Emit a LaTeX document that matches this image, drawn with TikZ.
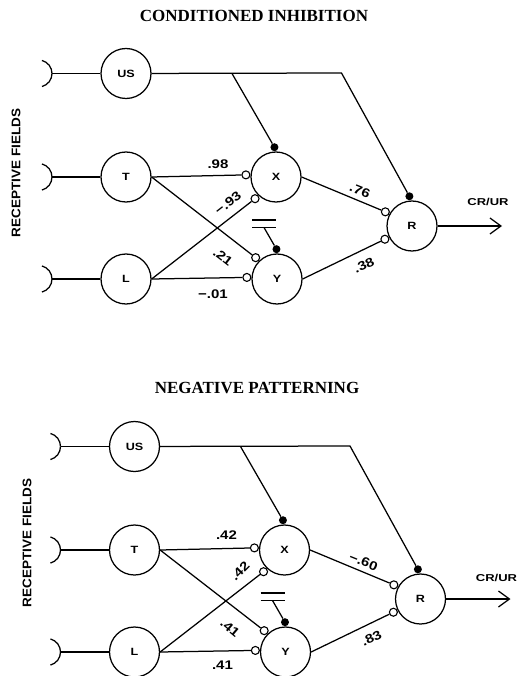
\documentclass[tikz,border=0pt]{standalone}
\usepackage{fontspec}
\setmainfont{Liberation Serif}
\setsansfont{Liberation Sans}
\usepackage{graphicx}
\usetikzlibrary{arrows.meta}

% widened lettering
\newcommand\wtxt[2][1.2]{\scalebox{#1}[1]{#2}}

\tikzset{
  wire/.style={line width=1.25pt},
  neuron/.style={circle, draw, line width=1.25pt, minimum size=50pt, inner sep=0pt,
    font=\sffamily\bfseries\fontsize{10.5}{10.5}\selectfont},
  opendot/.style={circle, draw, fill=white, line width=1.1pt, minimum size=8pt, inner sep=0pt},
  fulldot/.style={circle, fill=black, minimum size=8pt, inner sep=0pt},
  weight/.style={font=\sffamily\bfseries\fontsize{12.5}{12.5}\selectfont, inner sep=0pt},
  outlabel/.style={font=\sffamily\bfseries\fontsize{10}{10}\selectfont, inner sep=0pt},
  heading/.style={font=\rmfamily\bfseries\fontsize{17}{17}\selectfont, inner sep=0pt},
  sidelabel/.style={font=\sffamily\bfseries\fontsize{12.5}{12.5}\selectfont, rotate=90, inner sep=0pt},
}

% one network: #1 = name prefix
\newcommand\network[1]{%
  \node[neuron] (#1us) at (126,73.5) {\wtxt{US}};
  \node[neuron] (#1t)  at (126,177)  {\wtxt{T}};
  \node[neuron] (#1l)  at (126,279)  {\wtxt{L}};
  \node[neuron] (#1x)  at (276,177)  {\wtxt{X}};
  \node[neuron] (#1y)  at (277,279)  {\wtxt{Y}};
  \node[neuron] (#1r)  at (412,226)  {\wtxt{R}};
  % receptive fields
  \foreach \n/\yy in {us/73.5,t/177,l/279}{
    \coordinate (#1rf\n) at (52,\yy);
    \draw[wire] (#1rf\n) arc[start angle=0, end angle=75, radius=13.5];
    \draw[wire] (#1rf\n) arc[start angle=0, end angle=-75, radius=13.5];
    \draw[wire] (#1rf\n) -- (#1\n);
  }
  % synapses
  \node[fulldot, anchor=273] (#1xs) at (#1x.93) {};
  \node[fulldot, anchor=271] (#1ys) at (#1y.91) {};
  \node[fulldot, anchor=275] (#1rs) at (#1r.95) {};
  \node[opendot, anchor=356] (#1xa) at (#1x.176) {};
  \node[opendot, anchor=46]  (#1xb) at (#1x.226) {};
  \node[opendot, anchor=315] (#1ya) at (#1y.135) {};
  \node[opendot, anchor=357] (#1yb) at (#1y.177) {};
  \node[opendot, anchor=332] (#1ra) at (#1r.152) {};
  \node[opendot, anchor=26]  (#1rb) at (#1r.206) {};
  % US pathway
  \coordinate (#1split) at (232,73.5);
  \coordinate (#1bend) at (341.5,73);
  \draw[wire] (#1us) -- (#1bend) -- (#1rs);
  \draw[wire] (#1split) -- (#1xs);
  % conditioned stimuli to hidden units
  \draw[wire] (#1t.east) -- (#1xa);
  \draw[wire] (#1t.east) -- (#1ya);
  \draw[wire] (#1l.east) -- (#1xb);
  \draw[wire] (#1l.east) -- (#1yb);
  % hidden units to response
  \draw[wire] (#1x.east) -- (#1ra);
  \draw[wire] (#1y.east) -- (#1rb);
  % ground symbol on Y
  \coordinate (#1gnd) at (264,227.5);
  \draw[line width=1.4pt] ([xshift=-12pt]#1gnd) -- ([xshift=12pt]#1gnd);
  \draw[line width=1.4pt] ([xshift=-12pt,yshift=7.5pt]#1gnd) -- ([xshift=12pt,yshift=7.5pt]#1gnd);
  \draw[wire] (#1gnd) -- (#1ys);
  % output
  \coordinate (#1out) at (502,226);
  \draw[wire, -{Straight Barb[length=11pt,width=16pt]}] (#1r) -- (#1out);
}

\begin{document}
\begin{tikzpicture}[x=1pt, y=-1pt]
\useasboundingbox (0,0) rectangle (529,676);
\fill[white] (0,0) rectangle (529,676);

% conditioned inhibition
\node[heading] (title1) at (254,15.5) {CONDITIONED INHIBITION};
\node[sidelabel] (side1) at (16,173) {\wtxt[1.08]{RECEPTIVE FIELDS}};
\begin{scope}
  \network{a}
  \node[weight] (aw1) at (218,164) {\wtxt{.98}};
  \node[weight, rotate=38] (aw2) at (228,203) {\wtxt{−.93}};
  \node[weight, rotate=-38] (aw3) at (223,257) {\wtxt{.21}};
  \node[weight] (aw4) at (213,294) {\wtxt{−.01}};
  \node[weight, rotate=-22] (aw5) at (360,190.5) {\wtxt{.76}};
  \node[weight, rotate=24] (aw6) at (364,265.5) {\wtxt{.38}};
  \node[outlabel] (acr) at (488,202) {\wtxt[1.3]{CR/UR}};
\end{scope}

% negative patterning
\node[heading] (title2) at (257,388) {NEGATIVE PATTERNING};
\node[sidelabel] (side2) at (27,543) {\wtxt[1.08]{RECEPTIVE FIELDS}};
\begin{scope}[shift={(8.5,373)}]
  \network{b}
  \node[weight] (bw1) at (218,162) {\wtxt{.42}};
  \node[weight, rotate=45] (bw2) at (231.5,198) {\wtxt{.42}};
  \node[weight, rotate=-40] (bw3) at (221.5,255.3) {\wtxt{.41}};
  \node[weight] (bw4) at (214,292) {\wtxt{.41}};
  \node[weight, rotate=-22] (bw5) at (355,188.7) {\wtxt{−.60}};
  \node[weight, rotate=25] (bw6) at (363,265.3) {\wtxt{.83}};
  \node[outlabel] (bcr) at (488,205) {\wtxt[1.3]{CR/UR}};
\end{scope}
\end{tikzpicture}
\end{document}
